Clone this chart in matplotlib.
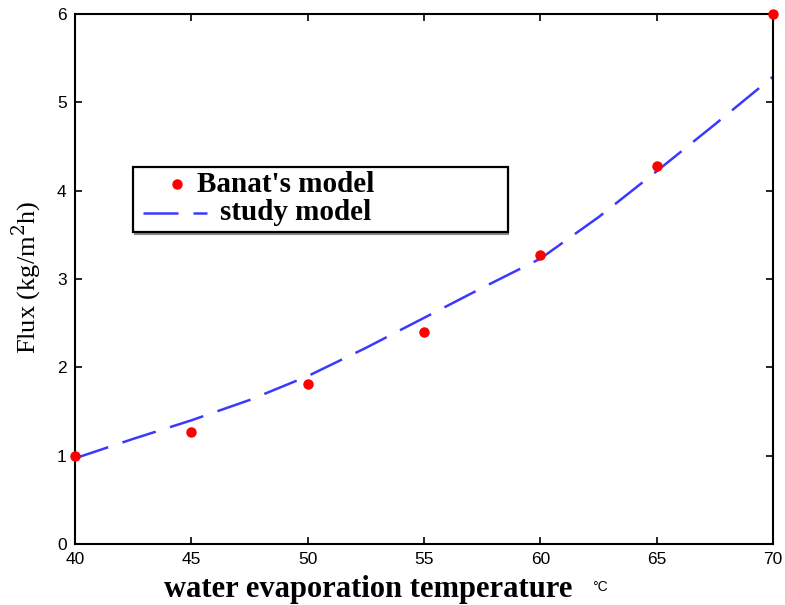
import matplotlib.pyplot as plt
from matplotlib.lines import Line2D
from matplotlib.patches import Rectangle

# Banat's model (points)
temp_banat = [40, 45, 50, 55, 60, 65, 70]
flux_banat = [1.0, 1.27, 1.81, 2.40, 3.27, 4.28, 6.0]

# study model (dashed curve)
temp_study = [40, 42.5, 45, 47.5, 50, 52.5, 55, 57.5, 60, 62.5, 65, 67.5, 70]
flux_study = [0.97, 1.19, 1.40, 1.63, 1.90, 2.22, 2.56, 2.90, 3.23, 3.70, 4.22, 4.75, 5.29]

xticks = [40, 45, 50, 55, 60, 65, 70]
yticks = [0, 1, 2, 3, 4, 5, 6]

W, H = 785, 605
fig = plt.figure(figsize=(W / 100, H / 100), dpi=100)
ax = fig.add_axes([75 / W, 1 - 544 / H, 698 / W, 530 / H])

def fx(px):
    return px / W

def fy(py):
    return 1 - py / H

blue = "#3a3aff"
ax.plot(temp_study, flux_study, color=blue, lw=1.8, dashes=(14, 6))
ax.plot(temp_banat, flux_banat, "o", color="red", ms=6.5, clip_on=False, zorder=5)

ax.set_xlim(40, 70)
ax.set_ylim(0, 6)
ax.set_xticks(xticks)
ax.set_yticks(yticks)
ax.tick_params(direction="in", top=True, right=True, length=5, width=1.2,
               labelsize=12.5, pad=6)
for lab in ax.get_xticklabels() + ax.get_yticklabels():
    lab.set_fontfamily("Liberation Sans")
for s in ax.spines.values():
    s.set_linewidth(1.5)

# axis labels placed like the original
fig.text(fx(368), fy(590), "water evaporation temperature",
         family="Liberation Serif", weight="bold", fontsize=22,
         ha="center", va="center")
fig.text(fx(600), fy(587), "°C", family="Liberation Sans",
         fontsize=10, ha="center", va="center")
fig.text(fx(27), fy(277), "Flux (kg/m$^2$h)", family="Liberation Serif",
         fontsize=19, rotation=90, ha="center", va="center",
         math_fontfamily="dejavuserif")

# legend box drawn like the original (MATLAB style)
fig.add_artist(Rectangle((fx(135), fy(234)), fx(508) - fx(135), fy(169) - fy(234),
                         transform=fig.transFigure, facecolor="none",
                         edgecolor="#888888", lw=1.5, zorder=6))
fig.add_artist(Rectangle((fx(133), fy(232)), fx(508) - fx(133), fy(167) - fy(232),
                         transform=fig.transFigure, facecolor="white",
                         edgecolor="black", lw=1.6, zorder=7))
fig.add_artist(Line2D([fx(177)], [fy(184)], marker="o", color="red", ms=6.5,
                      transform=fig.transFigure, zorder=8))
fig.add_artist(Line2D([fx(143), fx(207)], [fy(213), fy(213)], color=blue, lw=1.8,
                      dashes=(14, 6), transform=fig.transFigure, zorder=8))
fig.text(fx(197), fy(185), "Banat's model", family="Liberation Serif",
         weight="bold", fontsize=21, ha="left", va="center", zorder=8)
fig.text(fx(220), fy(212), "study model", family="Liberation Serif",
         weight="bold", fontsize=21, ha="left", va="center", zorder=8)

plt.savefig("out.png", dpi=100)
plt.close()
